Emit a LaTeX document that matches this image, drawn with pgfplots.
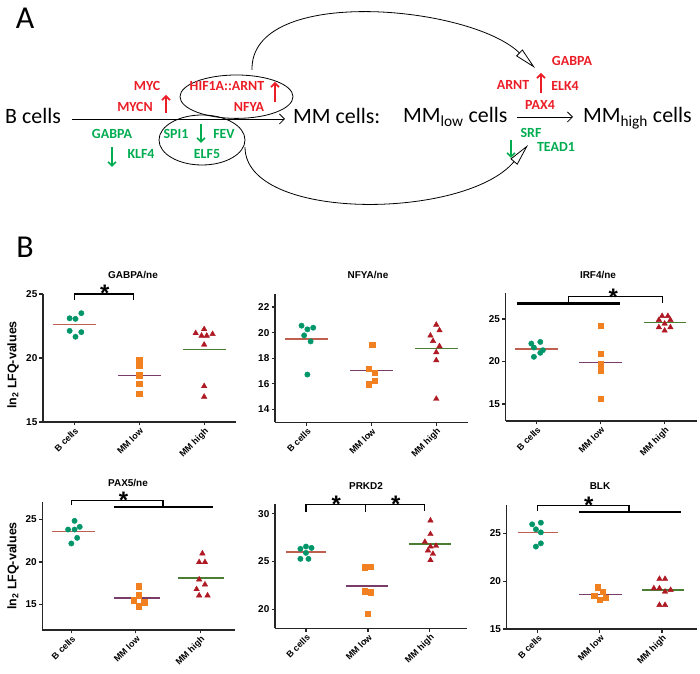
\documentclass[border=0pt]{standalone}
\usepackage{fontspec}
\setmainfont{Liberation Sans}
\newfontfamily\calfont{Carlito}
\usepackage{pgfplots}
\pgfplotsset{compat=1.18}
\usetikzlibrary{arrows.meta}

\definecolor{dotgreen}{RGB}{0,150,105}
\definecolor{dotorange}{RGB}{240,128,32}
\definecolor{dotred}{RGB}{175,25,35}
\definecolor{lnred}{RGB}{190,95,80}
\definecolor{lnpurple}{RGB}{120,60,105}
\definecolor{lngreen}{RGB}{75,125,50}
\definecolor{txtred}{RGB}{235,30,40}
\definecolor{txtgreen}{RGB}{0,172,80}

\pgfplotsset{
  dotplot/.style={
    scale only axis, anchor=south west,
    axis x line*=bottom, axis y line*=left,
    axis line style={line width=1.2bp, draw=black!85},
    xtick={0,1,2}, xticklabels={B cells, MM low, MM high},
    x tick label style={rotate=45, anchor=north east, inner sep=1bp,
      font=\fontsize{9}{9}\selectfont\bfseries},
    y tick label style={font=\fontsize{10}{10}\selectfont\bfseries, inner sep=2bp},
    /pgf/number format/assume math mode=true,
    tick align=outside, major tick length=3.5bp,
    tick style={line width=1.2bp, black!85},
    clip=false,
  },
  bc/.style={only marks, mark=*, mark size=2.7, color=dotgreen},
  ml/.style={only marks, mark=square*, mark size=2.6, color=dotorange},
  mh/.style={only marks, mark=triangle*, mark size=3.2, color=dotred},
  mean/.style={no marks, line width=1.4bp, color=#1},
}
\tikzset{
  star/.style={font=\fontsize{24}{24}\selectfont\bfseries, inner sep=0, anchor=base, yshift=-13.4bp},
  brk/.style={line width=1.2bp, black},
  grp/.style={line width=2.4bp, black},
  lab/.style={font=\calfont\fontsize{14}{14}\selectfont\bfseries, inner sep=0},
  upar/.style={line width=1.6bp, txtred, -{Straight Barb[length=4bp,width=8bp]}},
  dnar/.style={line width=1.6bp, txtgreen, -{Straight Barb[length=4bp,width=8bp]}},
}

\begin{document}
\begin{tikzpicture}
\path[use as bounding box] (0,0) rectangle (700bp,674bp);

% ---- GABPA/ne
\begin{axis}[dotplot, at={(43bp,252bp)}, width=193bp, height=128bp,
  xmin=-0.48, xmax=2.49, ymin=15, ymax=25, ytick={15,20,25}]
\addplot[bc] coordinates {(-0.07,23.1) (0.02,23.06) (0.11,23.5) (-0.07,22.12) (0.11,22.02) (0.02,21.66)};
\addplot[ml] coordinates {(1,19.87) (1,19.4) (1,18.65) (1,18.0) (1,17.23)};
\addplot[mh] coordinates {(1.87,21.94) (2,22.25) (1.96,21.74) (2.04,21.74) (2.13,21.87) (2,21.04) (2,17.8) (2,16.97)};
\addplot[mean=lnred] coordinates {(-0.33,22.6) (0.33,22.6)};
\addplot[mean=lnpurple] coordinates {(0.67,18.63) (1.33,18.63)};
\addplot[mean=lngreen] coordinates {(1.67,20.67) (2.33,20.67)};
\draw[brk] (0,24.53) |- (0.91,25) -- (0.91,24.53);
\node[star] at (0.47,25.44) {*};
\end{axis}

% ---- NFYA/ne
\begin{axis}[dotplot, at={(275bp,251.7bp)}, width=193bp, height=128bp,
  xmin=-0.49, xmax=2.49, ymin=13, ymax=23, ytick={14,16,18,20,22}]
\addplot[bc] coordinates {(-0.08,20.55) (0.01,20.26) (0.1,20.39) (-0.04,19.79) (0.06,19.32) (0.01,16.73)};
\addplot[ml] coordinates {(1.01,19.06) (0.96,17.17) (1.05,16.86) (1.05,16.23) (0.96,15.97)};
\addplot[mh] coordinates {(2,20.62) (2.05,20.18) (1.91,19.77) (1.95,19.35) (2.05,18.94) (2,18.47) (2,17.84) (2,14.83)};
\addplot[mean=lnred] coordinates {(-0.33,19.5) (0.33,19.5)};
\addplot[mean=lnpurple] coordinates {(0.67,17.06) (1.33,17.06)};
\addplot[mean=lngreen] coordinates {(1.67,18.75) (2.33,18.75)};
\end{axis}

% ---- IRF4/ne
\begin{axis}[dotplot, at={(505.7bp,253bp)}, width=191bp, height=127.5bp,
  xmin=-0.48, xmax=2.5, ymin=13, ymax=28, ytick={15,20,25}]
\addplot[bc] coordinates {(-0.08,22.11) (0.06,22.3) (-0.04,21.64) (0.1,21.33) (0.06,21.02) (-0.04,20.55)};
\addplot[ml] coordinates {(1,24.22) (1,20.9) (1,19.69) (1,18.91) (1,15.66)};
\addplot[mh] coordinates {(1.96,25.35) (2.05,25.35) (1.91,24.88) (2.09,24.88) (2,24.45) (1.91,24.02) (2.09,24.02) (2,23.63)};
\addplot[mean=lnred] coordinates {(-0.33,21.48) (0.33,21.48)};
\addplot[mean=lnpurple] coordinates {(0.67,19.88) (1.33,19.88)};
\addplot[mean=lngreen] coordinates {(1.67,24.6) (2.33,24.6)};
\draw[grp] (-0.31,26.84) -- (1.3,26.84);
\draw[brk] (0.5,26.84) |- (1.97,27.6) -- (1.97,26.91);
\node[star] at (1.2,28.2) {*};
\end{axis}

% ---- PAX5/ne
\begin{axis}[dotplot, at={(42.3bp,44bp)}, width=193bp, height=127.5bp,
  xmin=-0.45, xmax=2.54, ymin=12, ymax=27, ytick={15,20,25}]
\addplot[bc] coordinates {(0.05,24.84) (-0.05,23.82) (0.05,23.82) (0.13,24.14) (0.09,22.84) (0,22.18)};
\addplot[ml] coordinates {(1.04,17.16) (1.04,16.1) (0.96,15.51) (1.13,15.27) (1.04,14.8)};
\addplot[mh] coordinates {(2.03,21.0) (1.98,19.98) (2.07,19.98) (1.98,17.94) (2.07,17.35) (1.94,16.8) (1.98,16.06) (2.11,16.06)};
\addplot[mean=lnred] coordinates {(-0.3,23.6) (0.37,23.6)};
\addplot[mean=lnpurple] coordinates {(0.66,15.78) (1.37,15.78)};
\addplot[mean=lngreen] coordinates {(1.66,18.14) (2.36,18.14)};
\draw[grp] (0.66,26.49) -- (2.2,26.49);
\draw[brk] (0,26.69) |- (1.42,27.2) -- (1.42,26.49);
\node[star] at (0.81,27.86) {*};
\end{axis}

% ---- PRKD2
\begin{axis}[dotplot, at={(275bp,45.7bp)}, width=192bp, height=124bp,
  xmin=-0.5, xmax=2.6, ymin=18, ymax=31, ytick={20,25,30}]
\addplot[bc] coordinates {(-0.09,26.33) (0,26.57) (0.09,26.43) (0,25.91) (-0.09,25.28) (0.04,25.28)};
\addplot[ml] coordinates {(0.95,24.41) (1.04,24.48) (0.95,21.89) (1.04,21.78) (1,19.55)};
\addplot[mh] coordinates {(2.01,29.3) (2.01,27.87) (1.92,27.06) (2.01,26.57) (2.1,26.64) (1.97,26.15) (2.05,25.8) (2.01,25.14)};
\addplot[mean=lnred] coordinates {(-0.33,26.0) (0.33,26.0)};
\addplot[mean=lnpurple] coordinates {(0.65,22.45) (1.33,22.45)};
\addplot[mean=lngreen] coordinates {(1.66,26.82) (2.34,26.82)};
\draw[brk] (0,30.2) |- (0.96,31.01) -- (0.96,30.2);
\draw[brk] (0.96,31.01) -| (1.91,30.28);
\node[star] at (0.49,31.54) {*};
\node[star] at (1.45,31.54) {*};
\end{axis}

% ---- BLK
\begin{axis}[dotplot, at={(506.7bp,45bp)}, width=190bp, height=124.4bp,
  xmin=-0.5, xmax=2.56, ymin=15, ymax=28, ytick={15,20,25}]
\addplot[bc] coordinates {(-0.09,25.94) (0.05,26.11) (-0.03,25.42) (0.05,25.1) (0.05,23.95) (-0.03,23.61)};
\addplot[ml] coordinates {(0.96,19.36) (1.05,18.9) (0.91,18.52) (1.09,18.31) (1,18.1)};
\addplot[mh] coordinates {(1.96,20.23) (2.05,20.23) (1.87,19.25) (1.96,19.25) (2.05,18.9) (2.14,19.08) (1.96,17.51) (2.05,17.51)};
\addplot[mean=lnred] coordinates {(-0.32,25.07) (0.33,25.07)};
\addplot[mean=lnpurple] coordinates {(0.66,18.62) (1.35,18.62)};
\addplot[mean=lngreen] coordinates {(1.68,19.08) (2.35,19.08)};
\draw[grp] (0.67,27.2) -- (2.31,27.2);
\draw[brk] (0,27.33) |- (1.47,27.89) -- (1.47,27.2);
\node[star] at (0.82,28.48) {*};
\end{axis}

% ---- absolute layer, pixel coordinates (y down)
\begin{scope}[x=1bp, y=-1bp, yshift=674bp]
% panel titles and y labels
\begin{scope}[every node/.style={font=\fontsize{10}{10}\selectfont\bfseries, inner sep=0}]
\node at (133,275) {GABPA/ne};
\node at (368,275) {NFYA/ne};
\node at (598,275) {IRF4/ne};
\node at (128,483) {PAX5/ne};
\node at (366,486) {PRKD2};
\node at (600,486) {BLK};
\end{scope}
\node[rotate=90, font=\fontsize{12.5}{13}\selectfont\bfseries, inner sep=0] at (13,365) {ln\textsubscript{2} LFQ-values};
\node[rotate=90, font=\fontsize{12.5}{13}\selectfont\bfseries, inner sep=0] at (13,566) {ln\textsubscript{2} LFQ-values};

% panel letters
\node[font=\calfont\fontsize{32}{32}\selectfont, inner sep=0] at (25,18) {A};
\node[font=\calfont\fontsize{32}{32}\selectfont, inner sep=0] at (25,247) {B};

% cell states
\begin{scope}[every node/.style={font=\calfont\fontsize{22}{22}\selectfont, inner sep=0, anchor=base west}]
\node at (5,124) {B cells};
\node at (293,124) {MM cells:};
\node at (403,123) {MM\textsubscript{low} cells};
\node at (583,123) {MM\textsubscript{high} cells};
\end{scope}
\draw[line width=0.8bp, -{Straight Barb[length=5bp,width=10bp]}] (72,119) -- (285,119);
\draw[line width=0.8bp, -{Straight Barb[length=5bp,width=10bp]}] (517,117) -- (573,117);

% ellipses and loops
\draw[line width=0.8bp] (236.5,96.7) ellipse [x radius=56.5bp, y radius=21.7bp];
\draw[line width=0.8bp] (202,140) ellipse [x radius=43bp, y radius=25bp];
\draw[line width=0.8bp, -{Triangle[open, length=22bp, width=9bp]}] (252,70) .. controls (250,-15) and (470,5) .. (535,68);
\draw[line width=0.8bp, -{Triangle[open, length=22bp, width=9bp]}] (245,147) .. controls (245,222) and (465,220) .. (528,145);

% transcription factors
\begin{scope}[every node/.style={lab, txtred}]
\node at (147,86) {MYC};
\node at (135,107) {MYCN};
\node at (227,86) {HIF1A::ARNT};
\node at (249,107) {NFYA};
\node at (572,61) {GABPA};
\node at (513,85) {ARNT};
\node at (565,86) {ELK4};
\node at (540,105) {PAX4};
\end{scope}
\begin{scope}[every node/.style={lab, txtgreen}]
\node at (112,134) {GABPA};
\node at (141,154) {KLF4};
\node at (176,134) {SPI1};
\node at (224,134) {FEV};
\node at (207,154) {ELF5};
\node at (531,133) {SRF};
\node at (556,147) {TEAD1};
\end{scope}
\draw[upar] (166,113) -- (166,95);
\draw[upar] (275,102) -- (275,82);
\draw[upar] (541,93) -- (541,73);
\draw[dnar] (112,147) -- (112,167);
\draw[dnar] (201,124) -- (201,143);
\draw[dnar] (511,140) -- (511,158);
\end{scope}
\end{tikzpicture}
\end{document}
